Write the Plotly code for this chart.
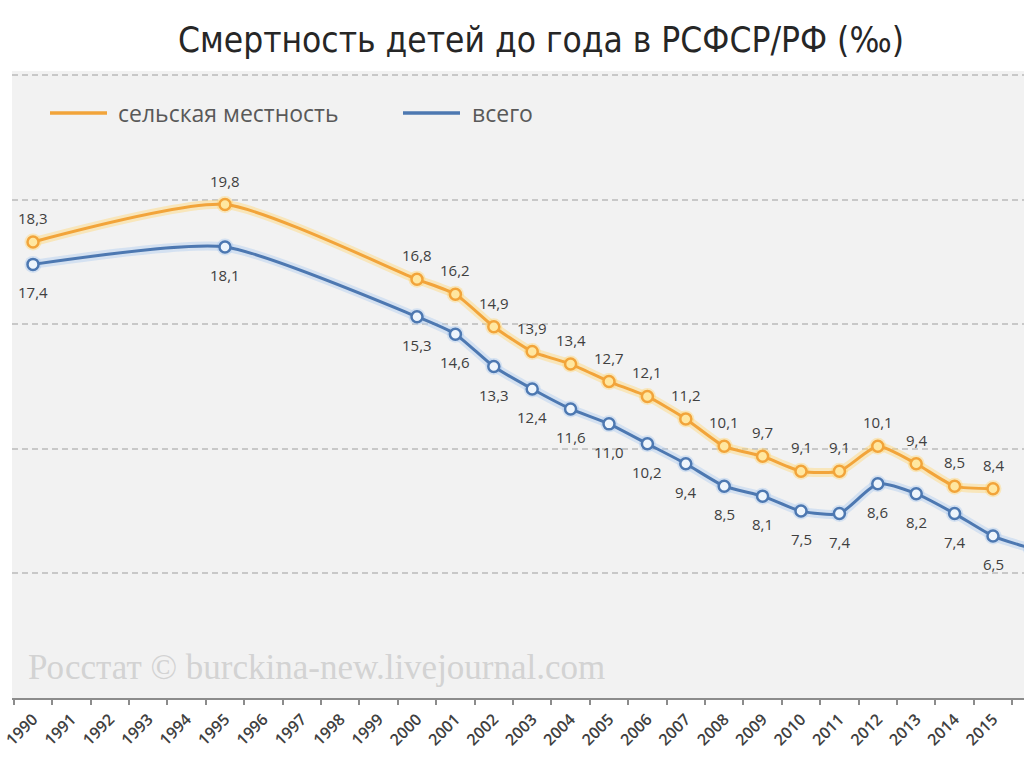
import plotly.graph_objects as go

years_rural = [1990, 1995, 2000, 2001, 2002, 2003, 2004, 2005, 2006, 2007, 2008, 2009, 2010, 2011, 2012, 2013, 2014, 2015]
rural = [18.3, 19.8, 16.8, 16.2, 14.9, 13.9, 13.4, 12.7, 12.1, 11.2, 10.1, 9.7, 9.1, 9.1, 10.1, 9.4, 8.5, 8.4]
years_total = [1990, 1995, 2000, 2001, 2002, 2003, 2004, 2005, 2006, 2007, 2008, 2009, 2010, 2011, 2012, 2013, 2014, 2015, 2016]
total = [17.4, 18.1, 15.3, 14.6, 13.3, 12.4, 11.6, 11.0, 10.2, 9.4, 8.5, 8.1, 7.5, 7.4, 8.6, 8.2, 7.4, 6.5, 6.0]
tick_years = list(range(1990, 2017))
name_rural = "сельская местность"
name_total = "всего"
title_text = "Смертность детей до года в РСФСР/РФ (‰)"
watermark = "Росстат © burckina-new.livejournal.com"

ORANGE = "#F2A43A"
BLUE = "#4D78B1"
W, H = 1024, 767
ML, MR, MT, MB = 12, 0, 71, 69
PW, PH = W - ML - MR, H - MT - MB
YTOP = 25.16


def px_x(px):
    return (px - ML) / PW


def px_y(py):
    return (H - MB - py) / PH


fig = go.Figure()

# glow layers
fig.add_trace(go.Scatter(x=years_rural, y=rural, mode="lines+markers", line=dict(color="rgba(255,214,120,0.45)", width=9, shape="spline", smoothing=0.6),
                         marker=dict(size=17, color="rgba(255,214,120,0.45)"), hoverinfo="skip", showlegend=False))
fig.add_trace(go.Scatter(x=years_total, y=total, mode="lines+markers", line=dict(color="rgba(175,205,240,0.45)", width=9, shape="spline", smoothing=0.6),
                         marker=dict(size=17, color="rgba(175,205,240,0.45)"), hoverinfo="skip", showlegend=False))

fig.add_trace(go.Scatter(x=years_rural, y=rural, name=name_rural, mode="lines+markers",
                         line=dict(color=ORANGE, width=3, shape="spline", smoothing=0.6),
                         marker=dict(size=11, color="#FFE7A0", line=dict(color=ORANGE, width=2.5)), showlegend=False))
fig.add_trace(go.Scatter(x=years_total, y=total, name=name_total, mode="lines+markers",
                         line=dict(color=BLUE, width=3, shape="spline", smoothing=0.6),
                         marker=dict(size=11, color="#EEF5FC", line=dict(color=BLUE, width=2.5)), showlegend=False))

lab_font = dict(family="Open Sans, sans-serif", size=15, color="#404040")
for xv, yv in zip(years_rural, rural):
    fig.add_annotation(x=xv, y=yv, text=f"{yv:.1f}".replace(".", ","), showarrow=False, yshift=24, font=lab_font)
for xv, yv in zip(years_total, total):
    fig.add_annotation(x=xv, y=yv, text=f"{yv:.1f}".replace(".", ","), showarrow=False, yshift=-28, font=lab_font)

# legend (manual)
leg_font = dict(family="Open Sans, sans-serif", size=23, color="#595959")
for (x0, x1, tx, col, txt) in [(50, 107, 116, ORANGE, name_rural), (403, 460, 470, BLUE, name_total)]:
    fig.add_shape(type="line", xref="paper", yref="paper", x0=px_x(x0), x1=px_x(x1), y0=px_y(113), y1=px_y(113),
                  line=dict(color=col, width=3.5))
    fig.add_annotation(xref="paper", yref="paper", x=px_x(tx), y=px_y(113), xanchor="left", yanchor="middle",
                       text=txt, showarrow=False, font=leg_font)

fig.add_annotation(xref="paper", yref="paper", x=px_x(26), y=px_y(667), xanchor="left", yanchor="middle",
                   text=watermark, showarrow=False,
                   font=dict(family="Liberation Serif, DejaVu Serif, serif", size=35, color="#D3D3D3"))

fig.update_layout(
    width=W, height=H,
    margin=dict(l=ML, r=MR, t=MT, b=MB),
    paper_bgcolor="white", plot_bgcolor="#F2F2F2",
    title=dict(text=title_text, x=541 / W, xanchor="center", xref="container", y=1 - 40 / H, yanchor="middle",
               yref="container",
               font=dict(family="Liberation Sans Narrow, DejaVu Sans Condensed, Arial Narrow, sans-serif", size=35, color="#262626")),
    showlegend=False,
)
fig.update_xaxes(range=[1989 + 1 - 21 / 38.4, 1990 + (W - 33) / 38.4], tickmode="array", tickvals=tick_years,
                 ticktext=[str(v) for v in tick_years], tickangle=-45, ticks="", ticklabelstandoff=4,
                 tickfont=dict(family="Open Sans, sans-serif", size=16, color="#404040", weight=600),
                 showgrid=False, zeroline=False, showline=True, linecolor="#8C8C8C", linewidth=1.5,
                 minor=dict(tick0=1989.5, dtick=1, ticks="outside", ticklen=5, tickcolor="#8C8C8C", tickwidth=1.5, showgrid=False))
fig.update_yaxes(range=[0, YTOP], tickvals=[5, 10, 15, 20, 25], showticklabels=False, showgrid=True,
                 gridcolor="#C8C8C8", gridwidth=1.5, griddash="6px,4px", zeroline=False, showline=False)

fig.write_html("out.html", config={"displayModeBar": False},
               post_script="document.body.style.margin='0';document.body.style.overflow='hidden';")
